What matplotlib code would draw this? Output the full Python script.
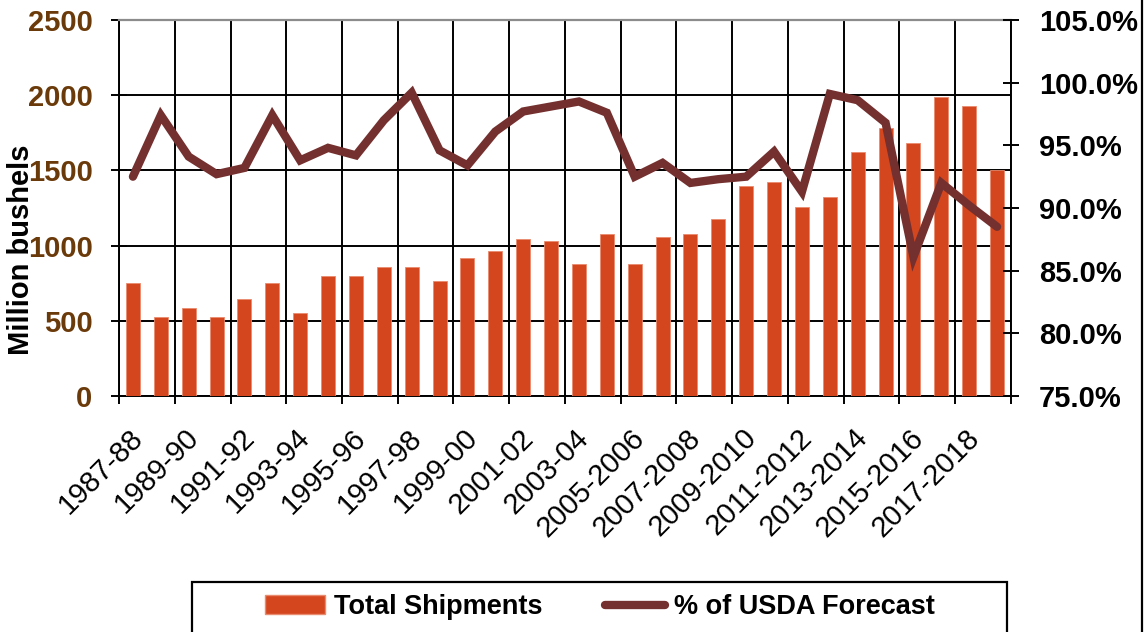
import numpy as np
import matplotlib
matplotlib.use("Agg")
import matplotlib.pyplot as plt
import matplotlib.transforms as mtransforms
from matplotlib.lines import Line2D
from matplotlib.patches import Rectangle, Patch
from matplotlib.ticker import FuncFormatter

plt.rcParams['font.family'] = ['Liberation Sans', 'DejaVu Sans']

# Data
seasons = ["1987-88", "1988-89", "1989-90", "1990-91", "1991-92", "1992-93",
           "1993-94", "1994-95", "1995-96", "1996-97", "1997-98", "1998-99",
           "1999-00", "2000-01", "2001-02", "2002-03", "2003-04", "2004-05",
           "2005-2006", "2006-2007", "2007-2008", "2008-2009", "2009-2010",
           "2010-2011", "2011-2012", "2012-2013", "2013-2014", "2014-2015",
           "2015-2016", "2016-2017", "2017-2018", "2018-2019"]
shipments = [750, 525, 585, 525, 645, 750, 555, 800, 800, 860, 860, 765,
             920, 965, 1045, 1030, 875, 1075, 875, 1060, 1075, 1180, 1395,
             1425, 1255, 1320, 1625, 1785, 1680, 1990, 1925, 1500]
pct_forecast = [92.5, 97.4, 94.1, 92.7, 93.2, 97.4, 93.8, 94.8, 94.2, 97.0,
                99.2, 94.6, 93.4, 96.1, 97.7, 98.1, 98.5, 97.6, 92.5, 93.6,
                92.0, 92.3, 92.5, 94.5, 91.3, 99.1, 98.6, 96.8, 86.1, 92.0,
                90.2, 88.5]

bar_color = '#D4461E'
line_color = '#74302F'
left_color = '#6B3A0A'

fig = plt.figure(figsize=(11.48, 6.32), dpi=100)
ax = fig.add_axes([119 / 1148, 1 - 396 / 632, (1011 - 119) / 1148, (396 - 20) / 632])

x = np.arange(len(seasons))
ax.bar(x, shipments, width=0.5, color=bar_color, edgecolor='#E98B6E', linewidth=0.6, zorder=3)

ax.set_xlim(-0.5, len(seasons) - 0.5)
ax.set_ylim(0, 2500)
ax.set_yticks(np.arange(0, 2501, 500))
ax.yaxis.grid(True, color='black', linewidth=1.4, zorder=0)

# gridlines / ticks at category boundaries every 2, labels at every other category
ax.set_xticks(np.arange(-0.5, len(seasons), 2))
ax.set_xticklabels([])
ax.xaxis.grid(True, color='black', linewidth=1.4, zorder=0)
ax.set_xticks(x[::2], minor=True)
ax.set_xticklabels(seasons[::2], minor=True, rotation=45, ha='right', va='center',
                   rotation_mode='anchor', fontsize=21)
ax.tick_params(axis='x', which='minor', length=0, pad=27)
ax.tick_params(axis='x', which='major', direction='out', length=6, width=1.4)
shift = mtransforms.ScaledTranslation(4 / 72, 0, fig.dpi_scale_trans)
for lbl in ax.get_xticklabels(minor=True):
    lbl.set_transform(lbl.get_transform() + shift)
ax.set_axisbelow(True)

ax.tick_params(axis='y', direction='inout', length=12, width=1.4, pad=13,
               labelsize=21, labelcolor=left_color)
for lbl in ax.get_yticklabels():
    lbl.set_fontweight('bold')

# the axis title overlaps the tick labels in the original too
ax.set_ylabel("Million bushels", fontsize=21, fontweight='bold')
ax.yaxis.label.set_va('center')
ax.yaxis.set_label_coords(-(119 - 21) / 892, 0.39)

ax.spines['top'].set_color('#8C8C8C')
ax.spines['top'].set_linewidth(1.6)
for s in ['left', 'bottom', 'right']:
    ax.spines[s].set_linewidth(1.4)

ax2 = ax.twinx()
ax2.plot(x, pct_forecast, color=line_color, linewidth=6, solid_joinstyle='miter',
         solid_capstyle='round', zorder=4)
ax2.set_ylim(75, 105)
ax2.set_yticks(np.arange(75, 105.1, 5))
ax2.yaxis.set_major_formatter(FuncFormatter(lambda v, p: f"{v:.1f}%"))
ax2.tick_params(axis='y', direction='inout', length=12, width=1.4, pad=14,
                labelsize=21, labelcolor='black')
for lbl in ax2.get_yticklabels():
    lbl.set_fontweight('bold')
for s in ax2.spines.values():
    s.set_visible(False)

# legend box running off the bottom of the figure
fig.add_artist(Rectangle((192 / 1148, -0.05), (1007 - 192) / 1148, 0.05 + 1 - 582 / 632,
                         transform=fig.transFigure, fill=False, edgecolor='black',
                         linewidth=1.6, clip_on=False))
handles = [Patch(facecolor=bar_color, edgecolor='#E98B6E'),
           Line2D([0], [0], color=line_color, linewidth=6, solid_capstyle='round')]
fig.legend(handles, ["Total Shipments", "% of USDA Forecast"], loc='center',
           bbox_to_anchor=(600 / 1148, 1 - 607 / 632), ncol=2, frameon=False,
           prop={'size': 19.5, 'weight': 'bold'}, handlelength=2.2, handleheight=0.7,
           handletextpad=0.35, columnspacing=2.3)

# right border line of the chart frame
fig.add_artist(Line2D([1142 / 1148, 1142 / 1148], [0, 1], transform=fig.transFigure,
                      color='black', linewidth=1.6))

fig.savefig("out.png", dpi=100)
